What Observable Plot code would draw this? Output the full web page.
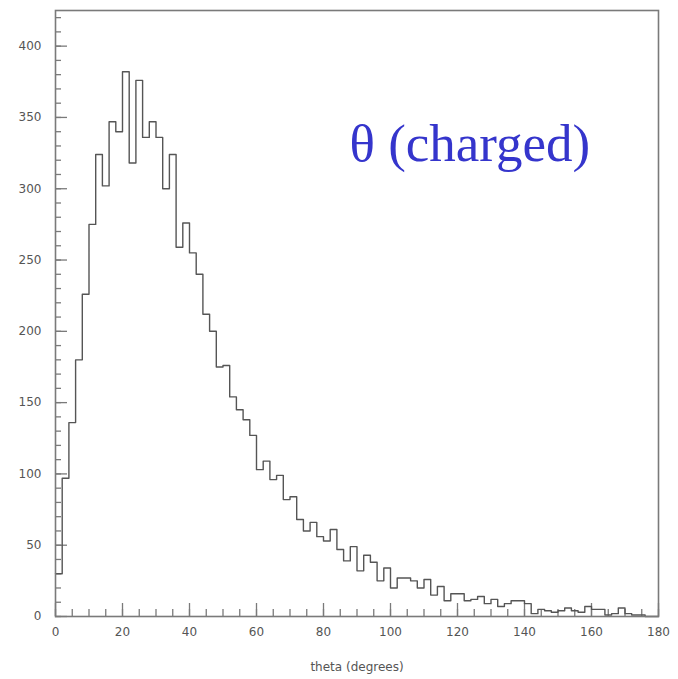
<!DOCTYPE html>
<html>
<head>
<meta charset="utf-8">
<script src="https://cdn.jsdelivr.net/npm/d3@7"></script>
<script src="https://cdn.jsdelivr.net/npm/@observablehq/plot@0.6"></script>
<style>
  html, body { margin: 0; padding: 0; background: #fff; }
</style>
</head>
<body>
<div id="chart"></div>
<script>
// Histogram of theta (charged), 2-degree bins from 0 to 180
const binWidth = 2;
const counts = [
  30, 97, 136, 180, 226, 275, 324, 302, 347, 340,
  382, 318, 376, 336, 347, 336, 300, 324, 259, 276,
  255, 240, 212, 200, 175, 176, 154, 145, 138, 127,
  103, 109, 96, 99, 82, 84, 68, 60, 66, 56,
  53, 61, 47, 39, 49, 32, 43, 38, 25, 34,
  20, 27, 27, 25, 20, 26, 15, 21, 11, 16,
  16, 11, 12, 14, 9, 12, 7, 9, 11, 11,
  9, 2, 5, 4, 3, 4, 6, 4, 3, 7,
  5, 5, 1, 2, 6, 2, 1, 1, 0, 0
];
const xTickLabels = [0, 20, 40, 60, 80, 100, 120, 140, 160, 180];
const yTickLabels = [0, 50, 100, 150, 200, 250, 300, 350, 400];
const xMinorStep = 5;
const yMinorStep = 10;
const titleText = "θ (charged)";
const xLabel = "theta (degrees)";

const W = 678, H = 679;
const mL = 55, mR = 20, mT = 10, mB = 63;
const plotW = W - mL - mR, plotH = H - mT - mB;

const steps = counts.map((c, i) => ({x: i * binWidth, y: c}));
steps.push({x: counts.length * binWidth, y: counts[counts.length - 1]});

const xMinor = d3.range(0, 180 + 1e-9, xMinorStep);
const yMinor = d3.range(0, 420 + 1e-9, yMinorStep);

const axisColor = "#7a7a7a";

const chart = Plot.plot({
  width: W,
  height: H,
  marginLeft: mL,
  marginRight: mR,
  marginTop: mT,
  marginBottom: mB,
  style: {fontFamily: "DejaVu Sans, sans-serif", fontSize: "12px", color: "#555", background: "#fff"},
  x: {domain: [0, 180], ticks: xTickLabels, tickSize: 0, tickPadding: 11, label: xLabel, labelAnchor: "center", labelArrow: "none", labelOffset: 54},
  y: {domain: [0, 425], ticks: yTickLabels, tickSize: 0, tickPadding: 14, label: null},
  marks: [
    Plot.tickY(yMinor, {y: d => d, stroke: axisColor, strokeWidth: 1.3, insetRight: plotW - 6}),
    Plot.tickY(yTickLabels, {y: d => d, stroke: axisColor, strokeWidth: 1.3, insetRight: plotW - 12}),
    Plot.tickX(xMinor, {x: d => d, stroke: axisColor, strokeWidth: 1.3, insetTop: plotH - 7}),
    Plot.tickX(xTickLabels, {x: d => d, stroke: axisColor, strokeWidth: 1.3, insetTop: plotH - 13}),
    Plot.line(steps, {x: "x", y: "y", curve: "step-after", stroke: "#555", strokeWidth: 1.4}),
    Plot.frame({stroke: axisColor, strokeWidth: 1.6}),
    Plot.text([titleText], {frameAnchor: "top-left", dx: 294, dy: 113, textAnchor: "start", fontFamily: "Liberation Serif, serif", fontSize: 53, fill: "#3535cc"})
  ]
});
document.getElementById("chart").appendChild(chart);
</script>
</body>
</html>
